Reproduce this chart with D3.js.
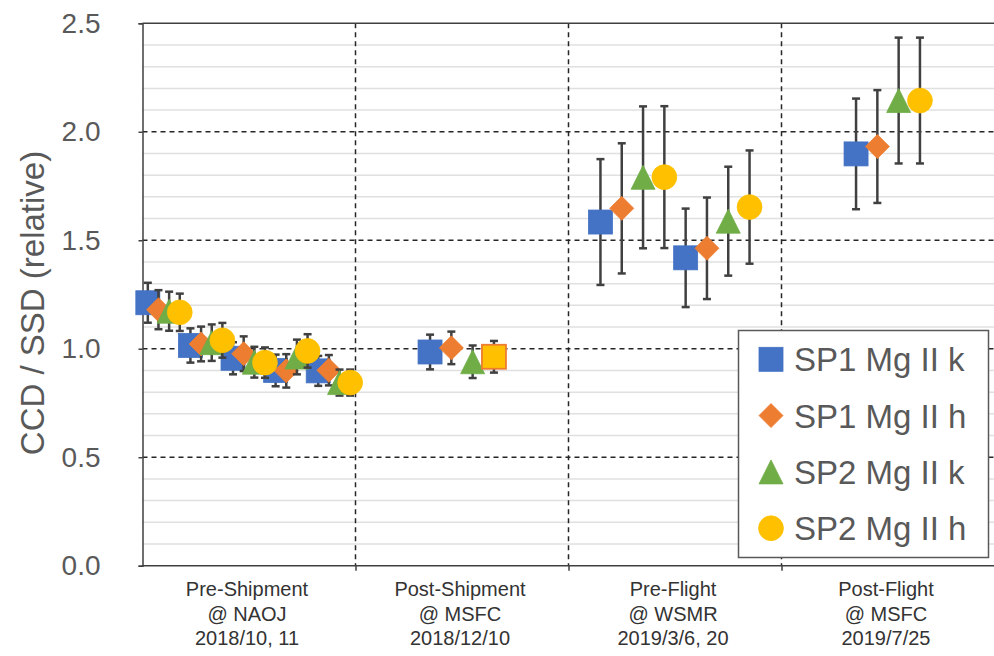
<!DOCTYPE html>
<html>
<head>
<meta charset="utf-8">
<script src="https://cdn.jsdelivr.net/npm/d3@7"></script>
<style>
  html, body { margin: 0; padding: 0; background: #fff; }
  svg { display: block; }
  text { font-family: "Liberation Sans", Arial, sans-serif; }
</style>
</head>
<body>
<svg id="chart" width="994" height="656"></svg>
<script>
// ---------------- DATA ----------------
const categories = [
  ["Pre-Shipment", "@ NAOJ", "2018/10, 11"],
  ["Post-Shipment", "@ MSFC", "2018/12/10"],
  ["Pre-Flight", "@ WSMR", "2019/3/6, 20"],
  ["Post-Flight", "@ MSFC", "2019/7/25"]
];
const yTicks = [0.0, 0.5, 1.0, 1.5, 2.0, 2.5];
const seriesNames = ["SP1 Mg II k", "SP1 Mg II h", "SP2 Mg II k", "SP2 Mg II h"];

// x positions (scatter x, category index units)
const sp1kX = [0.025, 0.225, 0.425, 0.625, 0.825, 1.35, 2.15, 2.55, 3.35];
const sp1hX = [0.075, 0.275, 0.475, 0.675, 0.875, 1.45, 2.25, 2.65, 3.45];
const sp2kX = [0.125, 0.325, 0.525, 0.725, 0.925, 1.55, 2.35, 2.75, 3.55];
const sp2hX = [0.175, 0.375, 0.575, 0.775, 0.975, 1.65, 2.45, 2.85, 3.65];

// values
const sp1kY = [1.212, 1.015, 0.956, 0.900, 0.898, 0.985, 1.584, 1.419, 1.898];
const sp1hY = [1.180, 1.022, 0.977, 0.898, 0.901, 1.004, 1.647, 1.463, 1.932];
const sp2kY = [1.173, 1.028, 0.938, 0.962, 0.844, 0.940, 1.790, 1.588, 2.144];
const sp2hY = [1.168, 1.039, 0.936, 0.990, 0.844, 0.963, 1.791, 1.653, 2.144];

// error (+/-)
const sp1kErr = [0.092, 0.079, 0.074, 0.073, 0.069, 0.080, 0.290, 0.227, 0.255];
const sp1hErr = [0.090, 0.080, 0.080, 0.077, 0.070, 0.075, 0.300, 0.234, 0.260];
const sp2kErr = [0.090, 0.084, 0.071, 0.080, 0.060, 0.075, 0.327, 0.251, 0.290];
const sp2hErr = [0.086, 0.080, 0.070, 0.077, 0.060, 0.073, 0.327, 0.261, 0.290];

// ---------------- STYLE / LAYOUT ----------------
const colors = ["#4472C4", "#ED7D31", "#70AD47", "#FFC000"];
const shapes = ["square", "diamond", "triangle", "circle"];
// in the original, the SP2 Mg II h point at Post-Shipment is drawn as a square with orange outline
const shapeOverride = { "3-5": { shape: "square", stroke: "#ED7D31" } };

const series = [
  { x: sp1kX, y: sp1kY, e: sp1kErr },
  { x: sp1hX, y: sp1hY, e: sp1hErr },
  { x: sp2kX, y: sp2kY, e: sp2kErr },
  { x: sp2hX, y: sp2hY, e: sp2hErr }
];

const svg = d3.select("#chart");
const L = 142.5, R = 994.5, T = 23.3, B = 565.7;
const x = d3.scaleLinear().domain([0, 4]).range([L, R]);
const y = d3.scaleLinear().domain([0, 2.5]).range([B, T]);

// minor gridlines every 0.1
const minor = d3.range(1, 25).map(i => i / 10).filter(v => Math.abs(v * 2 - Math.round(v * 2)) > 1e-6);
svg.append("g").selectAll("line").data(minor).join("line")
  .attr("x1", L).attr("x2", R)
  .attr("y1", d => y(d)).attr("y2", d => y(d))
  .attr("stroke", "#e0e0e0").attr("stroke-width", 1.5);

// major dashed gridlines
svg.append("g").selectAll("line").data(yTicks.filter(v => v > 0 && v < 2.5)).join("line")
  .attr("x1", L).attr("x2", R)
  .attr("y1", d => y(d)).attr("y2", d => y(d))
  .attr("stroke", "#262626").attr("stroke-width", 1.5).attr("stroke-dasharray", "5,4");

// vertical dashed separators
svg.append("g").selectAll("line").data([1, 2, 3]).join("line")
  .attr("x1", d => x(d)).attr("x2", d => x(d))
  .attr("y1", T).attr("y2", B)
  .attr("stroke", "#262626").attr("stroke-width", 1.5).attr("stroke-dasharray", "5,4");

// plot border: top, bottom
svg.append("line").attr("x1", L).attr("x2", R).attr("y1", T).attr("y2", T)
  .attr("stroke", "#404040").attr("stroke-width", 1.5);
svg.append("line").attr("x1", L).attr("x2", R).attr("y1", B).attr("y2", B)
  .attr("stroke", "#404040").attr("stroke-width", 1.5);

// y axis via d3
const yAxis = d3.axisLeft(y).tickValues(yTicks).tickFormat(d3.format(".1f")).tickSize(4).tickPadding(38);
const gy = svg.append("g").attr("transform", `translate(${L},0)`).call(yAxis);
gy.select(".domain").attr("stroke", "#404040").attr("stroke-width", 1.5);
gy.selectAll(".tick line").attr("stroke", "#404040").attr("stroke-width", 1.5);
gy.selectAll(".tick text").attr("fill", "#595959").attr("font-size", 28)
  .attr("font-family", "'Liberation Sans', Arial, sans-serif");

// x axis ticks at category boundaries
const xAxis = d3.axisBottom(x).tickValues([1, 2, 3]).tickSize(5).tickFormat("");
const gx = svg.append("g").attr("transform", `translate(0,${B})`).call(xAxis);
gx.select(".domain").remove();
gx.selectAll(".tick line").attr("stroke", "#404040").attr("stroke-width", 1.5);

// category labels
const catG = svg.append("g");
categories.forEach((lines, i) => {
  const t = catG.append("text")
    .attr("x", x(i + 0.5) - 2)
    .attr("text-anchor", "middle")
    .attr("fill", "#333333").attr("font-size", 20);
  lines.forEach((ln, j) => {
    t.append("tspan").attr("x", x(i + 0.5) - 2).attr("y", 596 + j * 24.5).text(ln);
  });
});

// y axis title
svg.append("text")
  .attr("transform", "translate(44,303) rotate(-90)")
  .attr("text-anchor", "middle")
  .attr("fill", "#595959").attr("font-size", 33)
  .text("CCD / SSD (relative)");

// marker drawing
function drawMarker(g, shape, cx, cy, fill, stroke) {
  const s = 12;
  if (shape === "square") {
    g.append("rect").attr("x", cx - s).attr("y", cy - s).attr("width", 2 * s).attr("height", 2 * s)
      .attr("fill", fill).attr("stroke", stroke).attr("stroke-width", stroke === fill ? 0.8 : 1.8);
  } else if (shape === "diamond") {
    g.append("path").attr("d", `M${cx},${cy - s}L${cx + s},${cy}L${cx},${cy + s}L${cx - s},${cy}Z`)
      .attr("fill", fill).attr("stroke", stroke).attr("stroke-width", 0.8);
  } else if (shape === "triangle") {
    g.append("path").attr("d", `M${cx},${cy - s}L${cx + s},${cy + s}L${cx - s},${cy + s}Z`)
      .attr("fill", fill).attr("stroke", stroke).attr("stroke-width", 0.8);
  } else {
    g.append("circle").attr("cx", cx).attr("cy", cy).attr("r", 12.4)
      .attr("fill", fill).attr("stroke", stroke).attr("stroke-width", 0.8);
  }
}

// series: error bars then markers
series.forEach((s, si) => {
  const g = svg.append("g");
  s.x.forEach((xv, i) => {
    const cx = x(xv), y1 = y(s.y[i] + s.e[i]), y2 = y(s.y[i] - s.e[i]);
    g.append("line").attr("x1", cx).attr("x2", cx).attr("y1", y1).attr("y2", y2)
      .attr("stroke", "#404040").attr("stroke-width", 2.5);
    [y1, y2].forEach(yy => g.append("line").attr("x1", cx - 4).attr("x2", cx + 4)
      .attr("y1", yy).attr("y2", yy).attr("stroke", "#404040").attr("stroke-width", 2.5));
  });
  s.x.forEach((xv, i) => {
    const ov = shapeOverride[`${si}-${i}`];
    drawMarker(g, ov ? ov.shape : shapes[si], x(xv), y(s.y[i]), colors[si], ov ? ov.stroke : colors[si]);
  });
});

// legend
const lg = svg.append("g");
lg.append("rect").attr("x", 738.5).attr("y", 330.5).attr("width", 250).attr("height", 227)
  .attr("fill", "#ffffff").attr("stroke", "#595959").attr("stroke-width", 1.5);
seriesNames.forEach((name, i) => {
  const cy = 359.3 + i * 56.3;
  drawMarker(lg, shapes[i], 771, cy, colors[i], colors[i]);
  lg.append("text").attr("x", 794).attr("y", cy + 12)
    .attr("fill", "#595959").attr("font-size", 33).text(name);
});
</script>
</body>
</html>
